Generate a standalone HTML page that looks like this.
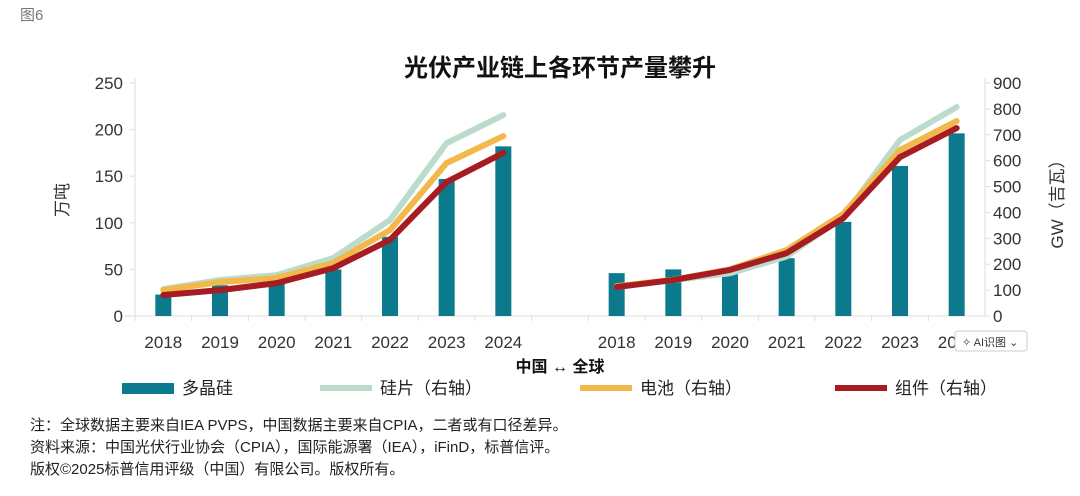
<!DOCTYPE html>
<html><head><meta charset="utf-8"><style>
body{margin:0;width:1080px;height:491px;background:#fff;overflow:hidden;font-family:"Liberation Sans","Noto Sans CJK SC",sans-serif;}
svg text{font-family:"Liberation Sans","Noto Sans CJK SC",sans-serif;}
</style></head><body>
<svg id="c" width="1080" height="491">
<text x="20" y="20" font-size="15" fill="#777">图6</text>
<text x="560" y="76" font-size="24" font-weight="bold" text-anchor="middle" fill="#111">光伏产业链上各环节产量攀升</text>
<text transform="translate(68,200) rotate(-90)" font-size="17" text-anchor="middle" fill="#333">万吨</text>
<text transform="translate(1063,200) rotate(-90)" font-size="17" text-anchor="middle" fill="#333">GW（吉瓦）</text>
<g id="axes"></g><g id="bars"></g><g id="lines"></g>
<text x="560" y="372" font-size="16" font-weight="bold" text-anchor="middle" fill="#111">中国 ↔ 全球</text>
<g>
<rect x="122" y="383" width="52" height="11" fill="#0a7a8c"/>
<text x="182" y="394" font-size="17" fill="#222">多晶硅</text>
<line x1="320" y1="388" x2="372" y2="388" stroke="#bcdccb" stroke-width="6"/>
<text x="380" y="394" font-size="17" fill="#222">硅片（右轴）</text>
<line x1="580" y1="388" x2="632" y2="388" stroke="#f2b94a" stroke-width="6"/>
<text x="640" y="394" font-size="17" fill="#222">电池（右轴）</text>
<line x1="835" y1="388" x2="887" y2="388" stroke="#a61c22" stroke-width="6"/>
<text x="895" y="394" font-size="17" fill="#222">组件（右轴）</text>
</g>
<text x="30" y="430" font-size="15" fill="#222">注：全球数据主要来自IEA PVPS，中国数据主要来自CPIA，二者或有口径差异。</text>
<text x="30" y="452" font-size="15" fill="#222">资料来源：中国光伏行业协会（CPIA），国际能源署（IEA），iFinD，标普信评。</text>
<text x="30" y="474" font-size="15" fill="#222">版权©2025标普信用评级（中国）有限公司。版权所有。</text>
<g>
<rect x="955" y="331" width="72" height="20" rx="3" fill="#fff" stroke="#ccc"/>
<text x="962" y="346" font-size="11" fill="#333">✧ AI识图 ⌄</text>
</g>
</svg>
<script>
const categories=["2018","2019","2020","2021","2022","2023","2024","","2018","2019","2020","2021","2022","2023","2024"];
const polysilicon=[23,33,39,50,85,147,182,null,46,50,52,62,101,161,196];
const wafer=[104,139,158,224,371,668,776,null,112,139,165,230,385,680,807];
const cell=[100,131,147,205,332,591,695,null,115,140,180,255,395,641,753];
const moduleOut=[81,100,127,185,294,518,630,null,112,139,178,243,378,614,726];
const leftTicks=[0,50,100,150,200,250];
const rightTicks=[0,100,200,300,400,500,600,700,800,900];
const X0=135,X1=985,Y0=316,Y1=83;
const bw=(X1-X0)/categories.length;
const xc=i=>X0+bw*(i+0.5);
const yl=v=>Y0-(v/250)*(Y0-Y1);
const yr=v=>Y0-(v/900)*(Y0-Y1);
const NS="http://www.w3.org/2000/svg";
function mk(t,a,p){const e=document.createElementNS(NS,t);for(const k in a)e.setAttribute(k,a[k]);p.appendChild(e);return e;}
const ax=document.getElementById('axes');
let l=mk('line',{x1:X0,y1:Y1-5,x2:X0,y2:Y0,stroke:'#ddd'},ax);


l=mk('line',{x1:X1,y1:Y1-5,x2:X1,y2:Y0,stroke:'#ddd'},ax);


l=mk('line',{x1:X0-10,y1:Y0,x2:X1,y2:Y0,stroke:'#ddd'},ax);


leftTicks.forEach(v=>{
 mk('line',{x1:X0-5,y1:yl(v),x2:X0,y2:yl(v),stroke:'#ddd'},ax);
 const t=mk('text',{x:X0-12,y:yl(v)+6,'font-size':17,'text-anchor':'end',fill:'#333'},ax);t.textContent=v;
 
 
});
rightTicks.forEach(v=>{
 mk('line',{x1:X1,y1:yr(v),x2:X1+5,y2:yr(v),stroke:'#ddd'},ax);
 const t=mk('text',{x:X1+8,y:yr(v)+6,'font-size':17,fill:'#333'},ax);t.textContent=v;
 
 
});
categories.forEach((c,i)=>{
 mk('line',{x1:X0+bw*i,y1:Y0,x2:X0+bw*i,y2:Y0+5,stroke:'#ddd'},ax);
 if(!c)return;
 const t=mk('text',{x:xc(i),y:Y0+32,'font-size':17,'text-anchor':'middle',fill:'#333'},ax);t.textContent=c;
 
 
});
const bg=document.getElementById('bars');
polysilicon.forEach((v,i)=>{
 if(v==null)return;
 const r=mk('rect',{x:xc(i)-8,y:yl(v),width:16,height:Y0-yl(v),fill:'#0a7a8c'},bg);
 
 
});
const lg=document.getElementById('lines');
[[wafer,'#bcdccb','line-wafer'],[cell,'#f2b94a','line-cell'],[moduleOut,'#a61c22','line-module']].forEach(([arr,col,name])=>{
 [[0,7],[8,15]].forEach(([a,b])=>{
  const pts=[];for(let i=a;i<b;i++)pts.push(xc(i)+','+yr(arr[i]));
  const p=mk('polyline',{points:pts.join(' '),fill:'none',stroke:col,'stroke-width':6,'stroke-linecap':'round','stroke-linejoin':'round'},lg);
  
  
 });
});
</script>
</body></html>
